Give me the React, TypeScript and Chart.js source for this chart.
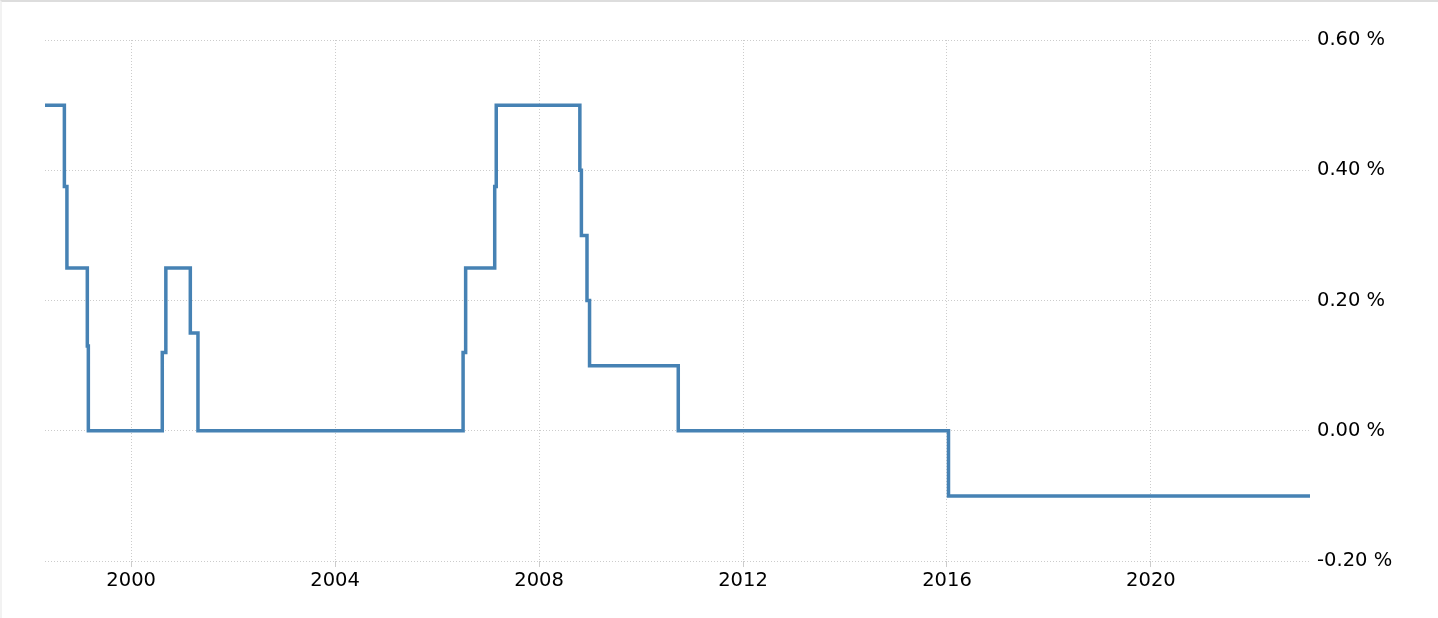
import React, { useEffect, useRef } from "react";
import { Chart, registerables } from "chart.js";

Chart.register(...registerables);

// Change points (decimal years) and the rate (%) that starts at each one
const dates = [
  1998.31, 1998.69, 1998.74, 1999.14, 1999.16, 2000.61, 2000.68, 2001.16, 2001.31,
  2006.51, 2006.56, 2007.13, 2007.16, 2008.8, 2008.83, 2008.94, 2008.99, 2010.73,
  2016.03, 2023.12,
];
const rates = [
  0.5, 0.375, 0.25, 0.13, 0, 0.12, 0.25, 0.15, 0,
  0.12, 0.25, 0.375, 0.5, 0.4, 0.3, 0.2, 0.1, 0,
  -0.1, -0.1,
];
const yearTicks = [2000, 2004, 2008, 2012, 2016, 2020];
const rateTicks = [-0.2, 0, 0.2, 0.4, 0.6];

const FONT = "'DejaVu Sans', Verdana, sans-serif";

export default function App() {
  const ref = useRef<HTMLCanvasElement | null>(null);

  useEffect(() => {
    document.body.style.margin = "0";
    const canvas = ref.current;
    if (!canvas) return;
    const chart = new Chart(canvas, {
      type: "line",
      data: {
        datasets: [
          {
            data: dates.map((d, i) => ({ x: d, y: rates[i] })),
            borderColor: "#4682b4",
            borderWidth: 3.5,
            pointRadius: 0,
            stepped: true,
            fill: false,
          },
        ],
      },
      options: {
        animation: false,
        responsive: false,
        maintainAspectRatio: false,
        layout: { padding: { left: 43, top: 38, right: 0, bottom: 0 } },
        plugins: { legend: { display: false }, tooltip: { enabled: false } },
        scales: {
          x: {
            type: "linear",
            min: dates[0],
            max: dates[dates.length - 1],
            afterBuildTicks: (s: any) => {
              s.ticks = yearTicks.map((v) => ({ value: v }));
            },
            afterFit: (s: any) => {
              s.height = 57;
            },
            grid: {
              color: "#cccccc",
              lineWidth: 1,
              drawTicks: true,
              tickLength: 6,
            },
            border: { display: false, dash: [1, 2] },
            ticks: {
              color: "#000",
              font: { family: FONT, size: 19.5 },
              padding: 2,
              maxRotation: 0,
              callback: (v: any) => String(v),
            },
          },
          y: {
            position: "right",
            min: -0.2,
            max: 0.6,
            afterBuildTicks: (s: any) => {
              s.ticks = rateTicks.map((v) => ({ value: v }));
            },
            afterFit: (s: any) => {
              s.width = 128;
            },
            grid: { color: "#cccccc", lineWidth: 1, drawTicks: false },
            border: { display: false, dash: [1, 2] },
            ticks: {
              color: "#000",
              font: { family: FONT, size: 19.5 },
              padding: 7,
              callback: (v: any) => Number(v).toFixed(2) + " %",
            },
          },
        },
      },
    });
    return () => chart.destroy();
  }, []);

  return (
    <div
      style={{
        width: 1438,
        height: 618,
        boxSizing: "border-box",
        borderTop: "2px solid #dddddd",
        borderLeft: "2px solid #f2f2f2",
        background: "#fff",
      }}
    >
      <canvas ref={ref} width={1436} height={616} style={{ display: "block" }} />
    </div>
  );
}
